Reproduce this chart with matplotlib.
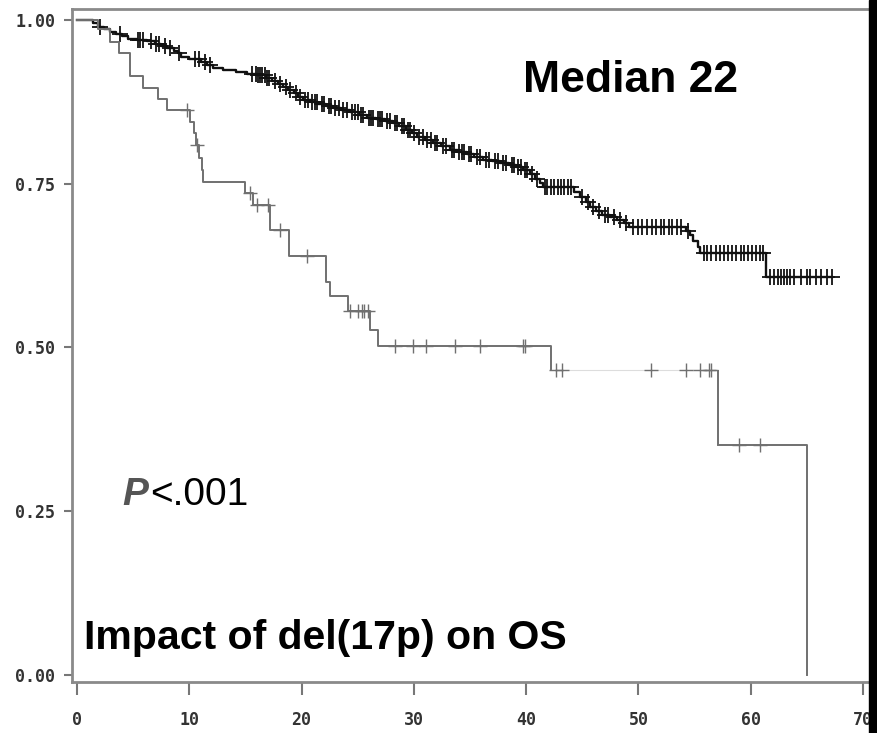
import matplotlib
matplotlib.use("Agg")
import matplotlib.pyplot as plt
from matplotlib.patches import Rectangle
import numpy as np

# Kaplan-Meier curves (months, survival probability)
# no del(17p): event times and survival after each event
wt_times = [0, 1.4, 1.9, 2.4, 2.9, 3.5, 4.0, 4.5, 5.3, 6.2, 6.9, 7.5, 8.0, 8.6, 9.0, 9.3,
            10.0, 11.0, 11.6, 12.1, 13.0, 14.2, 15.1, 16.0, 16.8, 17.4, 17.9, 18.3, 18.8,
            19.3, 19.7, 20.1, 20.8, 21.5, 22.2, 22.8, 23.5, 24.3, 25.1, 25.8, 26.6, 27.4,
            28.1, 28.7, 29.3, 29.8, 30.3, 31.0, 31.7, 32.4, 33.2, 33.9, 34.7, 35.4, 36.2,
            37.0, 37.7, 38.5, 39.1, 39.7, 40.3, 40.8, 41.2, 41.5, 44.3, 44.8, 45.3, 45.7,
            46.2, 46.8, 47.5, 48.1, 48.7, 49.2, 54.2, 54.6, 54.9, 55.3, 55.5, 61.4]
wt_surv = [1.0, 0.995, 0.990, 0.986, 0.982, 0.978, 0.975, 0.971, 0.970, 0.968, 0.964, 0.961,
           0.957, 0.953, 0.949, 0.944, 0.940, 0.936, 0.931, 0.927, 0.924, 0.921, 0.918, 0.916,
           0.911, 0.907, 0.902, 0.898, 0.893, 0.888, 0.883, 0.878, 0.875, 0.872, 0.869, 0.866,
           0.862, 0.859, 0.855, 0.851, 0.849, 0.846, 0.843, 0.838, 0.832, 0.827, 0.822, 0.817,
           0.812, 0.807, 0.802, 0.798, 0.795, 0.791, 0.787, 0.785, 0.782, 0.778, 0.775, 0.771,
           0.765, 0.758, 0.751, 0.745, 0.738, 0.730, 0.722, 0.715, 0.709, 0.703, 0.699, 0.695,
           0.690, 0.684, 0.678, 0.672, 0.663, 0.654, 0.645, 0.607]
wt_end = 67.2
wt_censored = [2.0, 3.8, 5.4, 5.6, 5.9, 6.6, 7.0, 7.3, 7.8, 8.3, 9.1, 10.5, 10.9, 11.4, 11.8,
               15.6, 15.9, 16.1, 16.3, 16.5, 16.7, 16.9, 17.1, 17.6, 18.1, 18.6, 19.0, 19.5,
               19.9, 20.3, 20.6, 20.9, 21.2, 21.4, 21.8, 22.0, 22.4, 22.6, 23.0, 23.3, 23.7,
               24.0, 24.5, 24.8, 25.0, 25.3, 25.5, 26.0, 26.2, 26.4, 26.8, 27.0, 27.2, 27.6,
               27.9, 28.3, 28.5, 28.9, 29.1, 29.5, 29.7, 30.0, 30.5, 30.8, 31.2, 31.5, 31.9,
               32.1, 32.6, 32.9, 33.4, 33.6, 34.0, 34.3, 34.5, 34.9, 35.1, 35.6, 35.9, 36.4,
               36.7, 37.2, 37.5, 37.9, 38.2, 38.7, 38.9, 39.3, 39.5, 39.9, 40.1, 40.5, 41.0,
               41.7, 41.9, 42.2, 42.5, 42.8, 43.1, 43.4, 43.7, 44.0, 45.0, 45.5, 46.0, 46.5,
               47.0, 47.3, 47.8, 48.4, 48.9, 49.5, 50.0, 50.3, 50.8, 51.2, 51.6, 52.0, 52.3,
               52.7, 53.0, 53.4, 53.8, 54.4, 55.8, 56.1, 56.5, 56.9, 57.3, 57.6, 58.0, 58.3,
               58.7, 59.1, 59.4, 59.8, 60.1, 60.5, 60.8, 61.1, 61.7, 62.1, 62.4, 62.7, 63.0,
               63.2, 63.5, 63.9, 64.5, 65.0, 65.3, 65.8, 66.3, 66.8, 67.2]

# del(17p)
del_times = [0, 1.9, 2.9, 3.7, 4.7, 5.9, 7.2, 8.0, 10.1, 10.4, 10.6, 10.9, 11.1, 11.2, 15.0,
             15.7, 17.2, 18.9, 22.2, 22.5, 24.1, 26.1, 26.8, 42.2, 57.05, 65.0]
del_surv = [1.0, 0.986, 0.967, 0.950, 0.914, 0.896, 0.879, 0.862, 0.845, 0.827, 0.809, 0.790,
            0.771, 0.753, 0.736, 0.718, 0.680, 0.639, 0.600, 0.578, 0.556, 0.527, 0.502,
            0.465, 0.351, 0.0]
del_censored = [9.8, 10.7, 15.4, 16.0, 17.0, 18.1, 20.5, 24.3, 25.0, 25.4, 25.6, 25.9, 28.3,
                29.9, 31.1, 33.7, 35.9, 39.7, 39.9, 42.7, 43.2, 51.1, 54.2, 55.5, 56.3, 56.5,
                59.0, 60.8]

x_ticks = [0, 10, 20, 30, 40, 50, 60, 70]
y_ticks = [0.0, 0.25, 0.50, 0.75, 1.00]


def surv_at(times, surv, t):
    i = np.searchsorted(times, t, side="right") - 1
    return np.asarray(surv)[i]


fig = plt.figure(figsize=(8.77, 7.33), dpi=100)
ax = fig.add_axes([72 / 877, 1 - 682 / 733, 828 / 877, 673 / 733])

# no del(17p) curve
ax.step(wt_times + [wt_end], wt_surv + [wt_surv[-1]], where="post", color="#111111", lw=1.7)
ax.plot(wt_censored, surv_at(wt_times, wt_surv, wt_censored), ls="none", marker="+",
        ms=11, mew=1.3, color="#111111")

# del(17p) curve, the long flat part after 42 months is drawn very faint
k = del_times.index(42.2)
ax.step(del_times[:k + 1], del_surv[:k + 1], where="post", color="#707070", lw=1.4)
ax.plot([del_times[k], del_times[k + 1]], [del_surv[k], del_surv[k]], color="#dddddd", lw=0.8)
ax.vlines(del_times[k + 1], del_surv[k + 1], del_surv[k], color="#707070", lw=1.4)
ax.step(del_times[k + 1:], del_surv[k + 1:], where="post", color="#707070", lw=1.4)
ax.plot(del_censored, surv_at(del_times, del_surv, del_censored), ls="none", marker="+",
        ms=10, mew=1.0, color="#707070")

ax.set_xlim(-0.45, 73.3)
ax.set_ylim(-0.0107, 1.0168)
ax.set_xticks(x_ticks)
ax.set_yticks(y_ticks)
ax.set_yticklabels([f"{v:.2f}" for v in y_ticks])
for sp in ["left", "bottom", "top"]:
    ax.spines[sp].set_color("#8a8a8a")
    ax.spines[sp].set_linewidth(2)
ax.spines["right"].set_visible(False)
ax.tick_params(axis="x", direction="out", length=9, width=1.5, color="#777777", pad=12)
ax.tick_params(axis="y", direction="out", length=6, width=1.5, color="#777777", pad=6)
for lab in ax.get_xticklabels() + ax.get_yticklabels():
    lab.set_family("DejaVu Sans Mono")
    lab.set_fontweight("bold")
    lab.set_color("#333333")
    lab.set_fontsize(12)

# annotations
ax.text(0.545, 0.894, "Median 22", transform=ax.transAxes, fontsize=32, fontweight="bold",
        family="Liberation Sans", ha="left", va="center")
ax.text(0.061, 0.278, "P", transform=ax.transAxes, fontsize=28, fontweight="bold",
        fontstyle="italic", family="Liberation Sans", color="#555555", ha="left", va="center")
ax.text(0.094, 0.278, "<.001", transform=ax.transAxes, fontsize=28,
        family="Liberation Sans", ha="left", va="center")
ax.text(0.0145, 0.065, "Impact of del(17p) on OS", transform=ax.transAxes, fontsize=29.5,
        fontweight="bold", family="Liberation Sans", ha="left", va="center")

# dark band at the right edge of the picture
fig.patches.append(Rectangle((869 / 877, 0), 8 / 877, 1, transform=fig.transFigure,
                             color="black", zorder=10))

fig.savefig("out.png", dpi=100)
